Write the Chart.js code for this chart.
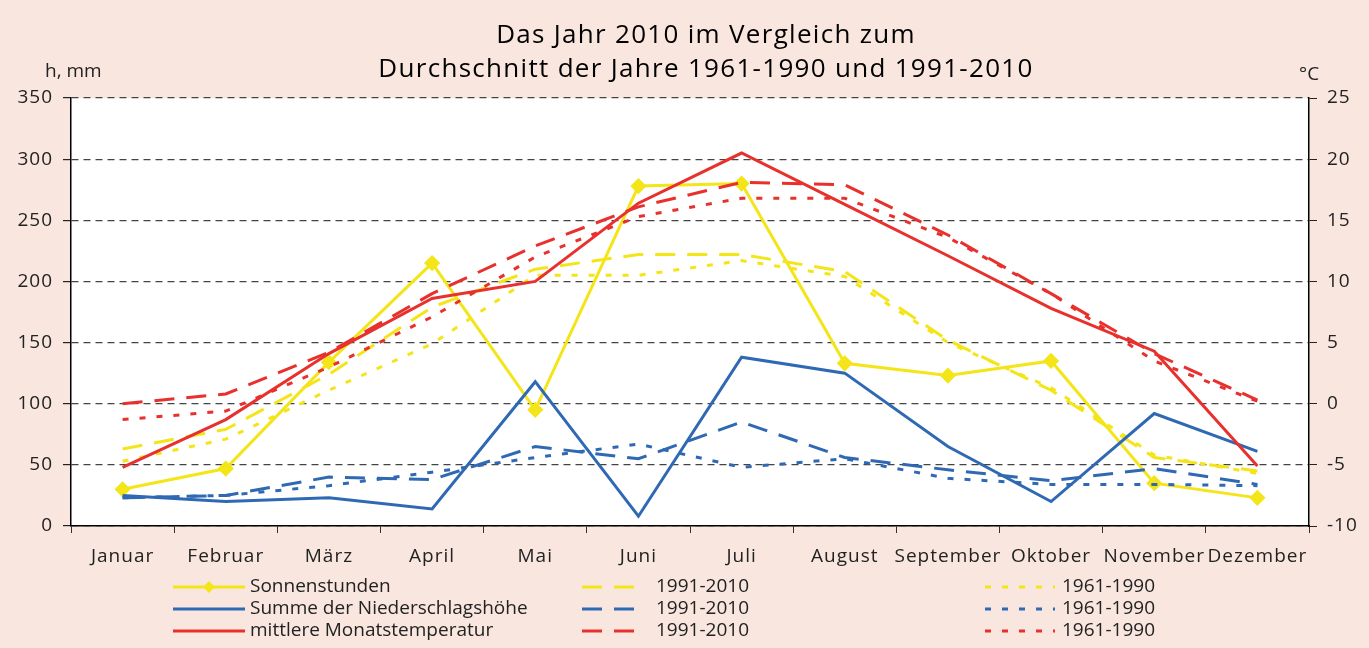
<!DOCTYPE html>
<html>
<head>
<meta charset="utf-8">
<script src="https://cdn.jsdelivr.net/npm/chart.js@4/dist/chart.umd.min.js"></script>
<style>
  html, body { margin: 0; padding: 0; background: #f9e7df; }
</style>
</head>
<body>
<canvas id="chart" width="1369" height="648"></canvas>
<script>
// month labels
const months = ['Januar', 'Februar', 'März', 'April', 'Mai', 'Juni', 'Juli', 'August', 'September', 'Oktober', 'November', 'Dezember'];

// sunshine hours (left axis)
const sonne2010 = [30, 47, 134, 215, 95, 278, 280, 133, 123, 135, 35, 23];
const sonne9110 = [63, 79, 124, 179, 210, 222, 222, 208, 152, 111, 56, 45];
const sonne6190 = [53, 71, 111, 149, 205, 205, 217, 204, 150, 113, 58, 43];

// precipitation mm (left axis)
const regen2010 = [25, 20, 23, 14, 118, 8, 138, 125, 65, 20, 92, 61];
const regen9110 = [23, 25, 40, 38, 65, 55, 85, 56, 46, 37, 47, 34];
const regen6190 = [23, 25, 33, 44, 56, 67, 48, 55, 39, 34, 34, 33];

// mean monthly temperature °C (right axis)
const temp2010 = [-5.2, -1.3, 4.1, 8.6, 10.0, 16.4, 20.5, 16.3, 12.1, 7.8, 4.3, -5.1];
const temp9110 = [0.0, 0.8, 4.2, 9.0, 12.9, 16.1, 18.1, 17.9, 13.8, 9.0, 4.1, 0.3];
const temp6190 = [-1.3, -0.6, 3.0, 7.1, 12.0, 15.3, 16.8, 16.8, 13.6, 9.0, 3.5, 0.2];

const YELLOW = '#f4e519';
const BLUE = '#2f69b3';
const RED = '#e8302d';
const DASH = [20, 12];
const DOT = [6, 11];
const FONT = '"Open Sans", "DejaVu Sans", sans-serif';
const TEXT = '#222';

function line(label, data, color, dash, axis) {
  return {
    label: label,
    data: data,
    borderColor: color,
    backgroundColor: color,
    borderWidth: 3,
    borderDash: dash,
    pointRadius: 0,
    tension: 0,
    yAxisID: axis,
    fill: false,
  };
}

const datasets = [
  line('mittlere Monatstemperatur', temp2010, RED, [], 'y1'),
  line('1991-2010', temp9110, RED, DASH, 'y1'),
  line('1961-1990', temp6190, RED, DOT, 'y1'),
  line('Summe der Niederschlagshöhe', regen2010, BLUE, [], 'y'),
  line('1991-2010', regen9110, BLUE, DASH, 'y'),
  line('1961-1990', regen6190, BLUE, DOT, 'y'),
  line('Sonnenstunden', sonne2010, YELLOW, [], 'y'),
  line('1991-2010', sonne9110, YELLOW, DASH, 'y'),
  line('1961-1990', sonne6190, YELLOW, DOT, 'y'),
];
// diamonds on the sunshine line
datasets[6].pointStyle = 'rectRot';
datasets[6].pointRadius = 6;
datasets[6].pointHoverRadius = 6;

// legend rows, dataset indices per row (3 columns)
const legendRows = [[6, 7, 8], [3, 4, 5], [0, 1, 2]];
const legendRowY = [587, 609, 631];
const legendCols = [
  { x0: 173, x1: 245, tx: 250 },
  { x0: 582, x1: 644, tx: 656 },
  { x0: 985, x1: 1055, tx: 1062 },
];

const decorPlugin = {
  id: 'decor',
  beforeDraw(chart) {
    const { ctx, chartArea: a } = chart;
    ctx.save();
    ctx.fillStyle = '#f9e7df';
    ctx.fillRect(0, 0, chart.width, chart.height);
    ctx.fillStyle = '#ffffff';
    ctx.fillRect(a.left, a.top, a.right - a.left, a.bottom - a.top);
    ctx.restore();
    // axis labels are a bit spaced out in the original
    ctx.letterSpacing = '1px';
  },
  afterDraw(chart) {
    const ctx = chart.ctx;
    ctx.letterSpacing = '0px';
    ctx.save();
    ctx.fillStyle = '#000';
    ctx.textBaseline = 'middle';
    ctx.textAlign = 'center';
    ctx.letterSpacing = '1.3px';
    ctx.font = '500 26px ' + FONT;
    ctx.fillText('Das Jahr 2010 im Vergleich zum', 706, 36);
    ctx.fillText('Durchschnitt der Jahre 1961-1990 und 1991-2010', 706, 70);
    ctx.letterSpacing = '0px';

    ctx.fillStyle = TEXT;
    ctx.font = '19px ' + FONT;
    ctx.textAlign = 'left';
    ctx.fillText('h, mm', 45, 72);
    ctx.fillText('°C', 1299, 75);

    // legend
    legendRows.forEach((row, r) => {
      const y = legendRowY[r];
      row.forEach((idx, c) => {
        const ds = chart.data.datasets[idx];
        const col = legendCols[c];
        ctx.strokeStyle = ds.borderColor;
        ctx.lineWidth = 3;
        ctx.setLineDash(ds.borderDash);
        ctx.beginPath();
        ctx.moveTo(col.x0, y);
        ctx.lineTo(col.x1, y);
        ctx.stroke();
        ctx.setLineDash([]);
        if (ds.pointStyle === 'rectRot') {
          ctx.fillStyle = ds.borderColor;
          ctx.beginPath();
          const mx = (col.x0 + col.x1) / 2;
          ctx.moveTo(mx, y - 6);
          ctx.lineTo(mx + 6, y);
          ctx.lineTo(mx, y + 6);
          ctx.lineTo(mx - 6, y);
          ctx.closePath();
          ctx.fill();
        }
        ctx.fillStyle = TEXT;
        ctx.font = '19px ' + FONT;
        ctx.fillText(ds.label, col.tx, y);
      });
    });
    ctx.restore();
  },
};

const tickFont = { family: FONT, size: 19 };

new Chart(document.getElementById('chart'), {
  type: 'line',
  data: { labels: months, datasets: datasets },
  options: {
    responsive: false,
    animation: false,
    layout: { padding: { top: 98, bottom: 82, left: 0, right: 0 } },
    plugins: {
      legend: { display: false },
      title: { display: false },
      tooltip: { enabled: false },
    },
    scales: {
      x: {
        type: 'category',
        offset: true,
        grid: { offset: true, drawOnChartArea: false, drawTicks: true, tickLength: 7, color: '#333', lineWidth: 1 },
        border: { color: '#000', width: 1.5 },
        ticks: { font: tickFont, color: TEXT, padding: 12, maxRotation: 0, minRotation: 0, autoSkip: false },
        afterFit(scale) { scale.height = 40; },
      },
      y: {
        position: 'left',
        min: 0,
        max: 350,
        ticks: { stepSize: 50, font: tickFont, color: TEXT, padding: 10 },
        grid: { color: '#444', lineWidth: 1.2, tickLength: 8, tickColor: '#222', tickBorderDash: [] },
        border: { color: '#000', width: 1.5, dash: [7, 5] },
        afterFit(scale) { scale.width = 71; },
      },
      y1: {
        position: 'right',
        min: -10,
        max: 25,
        ticks: { stepSize: 5, font: tickFont, color: TEXT, padding: 10 },
        grid: { drawOnChartArea: false, tickLength: 8, tickColor: '#222' },
        border: { color: '#000', width: 1.5 },
        afterFit(scale) { scale.width = 60; },
      },
    },
  },
  plugins: [decorPlugin],
});
</script>
</body>
</html>
